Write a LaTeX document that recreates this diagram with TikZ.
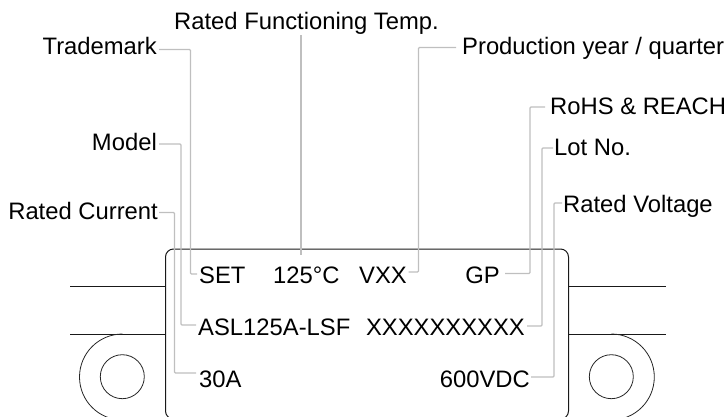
\documentclass[tikz,border=0pt]{standalone}
\usepackage{fontspec}
\setmainfont{Liberation Sans}

\newcommand*{\xmaxpx}{728}
\newcommand*{\ymaxpx}{417}

\begin{document}
\begin{tikzpicture}
[
	x=1pt,
	y=-1pt,
	lbl/.style={inner sep=0pt,font=\fontsize{23.8}{27}\selectfont,text height=17pt,text depth=5pt},
	lblleft/.style={lbl,anchor=base east},
	lblright/.style={lbl,anchor=base west},
	leader/.style={draw=black!25,line width=1.3pt,rounded corners=1pt},
	outline/.style={draw=black!90,line width=1pt},
	thinline/.style={draw=black!85,line width=0.8pt}
]

	\useasboundingbox (0,0) rectangle (\xmaxpx,\ymaxpx);
	\clip (0,0) rectangle (\xmaxpx,416.5);

	% body and leads
	\draw[outline,rounded corners=8pt] (165.5,249) rectangle (568.5,419);
	\draw[outline] (70,286) -- (165.5,286);
	\draw[outline] (70,334) -- (165.5,334);
	\draw[outline] (568.5,286) -- (666,286);
	\draw[outline] (568.5,334) -- (666,334);

	% lugs
	\draw[thinline] (122.5,334) arc[start angle=-90,end angle=-270,radius=43];
	\draw[thinline] (122.3,376.7) circle (22);
	\draw[thinline] (611.3,334) arc[start angle=-90,end angle=90,radius=43];
	\draw[thinline] (611.3,376.7) circle (22);

	% outside labels
	\node[lblright] at (174,30) (ratedtemp) {Rated Functioning Temp.};
	\node[lblleft] at (157,55) (trademark) {Trademark};
	\node[lblleft] at (157,150) (model) {Model};
	\node[lblleft] at (158,219) (ratedcurrent) {Rated Current};
	\node[lblright] at (462,55) (production) {Production year / quarter};
	\node[lblright] at (550,115) (rohs) {RoHS \& REACH};
	\node[lblright] at (554,156) (lotno) {Lot No.};
	\node[lblright] at (563,212) (ratedvoltage) {Rated Voltage};

	% marking on the body
	\node[lblright] at (199,283) (set) {SET};
	\node[lblright] at (273,283) (temp) {125°C};
	\node[lblright] at (359,283) (vxx) {VXX};
	\node[lblleft] at (500,283) (gp) {GP};
	\node[lblright] at (198,335) (asl) {ASL125A-LSF};
	\node[lblleft] at (525,335) (lot) {XXXXXXXXXX};
	\node[lblright] at (199,387) (amps) {30A};
	\node[lblleft] at (530,387) (volts) {600VDC};

	% bends of the leaders
	\coordinate (bendtrademark) at (190.5,49.5);
	\coordinate (bendmodel) at (181,144);
	\coordinate (bendcurrent) at (174.5,212.5);
	\coordinate (bendtemp) at (301,36);
	\coordinate (bendproduction) at (418.5,47.5);
	\coordinate (bendrohs) at (530,107);
	\coordinate (bendlot) at (542,148);
	\coordinate (bendvoltage) at (554,203);

	% leaders
	\draw[leader] ([xshift=2pt]trademark.east |- bendtrademark) -- (bendtrademark) |- ([xshift=-2pt,yshift=3pt]set.west);
	\draw[leader] ([xshift=2pt]model.east |- bendmodel) -- (bendmodel) |- ([xshift=-2pt,yshift=4pt]asl.west);
	\draw[leader] ([xshift=1pt]ratedcurrent.east |- bendcurrent) -- (bendcurrent) |- ([xshift=-3pt,yshift=8pt]amps.west);
	\draw[leader] (bendtemp |- ratedtemp.south) -- ([yshift=11pt]bendtemp |- temp.north);
	\draw[leader] ([xshift=-6pt]production.west |- bendproduction) -- (bendproduction) |- ([xshift=1.5pt,yshift=5pt]vxx.east);
	\draw[leader] ([xshift=-5pt]rohs.west |- bendrohs) -- (bendrohs) |- ([xshift=5pt,yshift=3.5pt]gp.east);
	\draw[leader] ([xshift=-1pt]lotno.west |- bendlot) -- (bendlot) |- ([xshift=2pt,yshift=3pt]lot.east);
	\draw[leader] ([xshift=-1pt]ratedvoltage.west |- bendvoltage) -- (bendvoltage) |- ([xshift=1pt,yshift=4pt]volts.east);

\end{tikzpicture}
\end{document}
